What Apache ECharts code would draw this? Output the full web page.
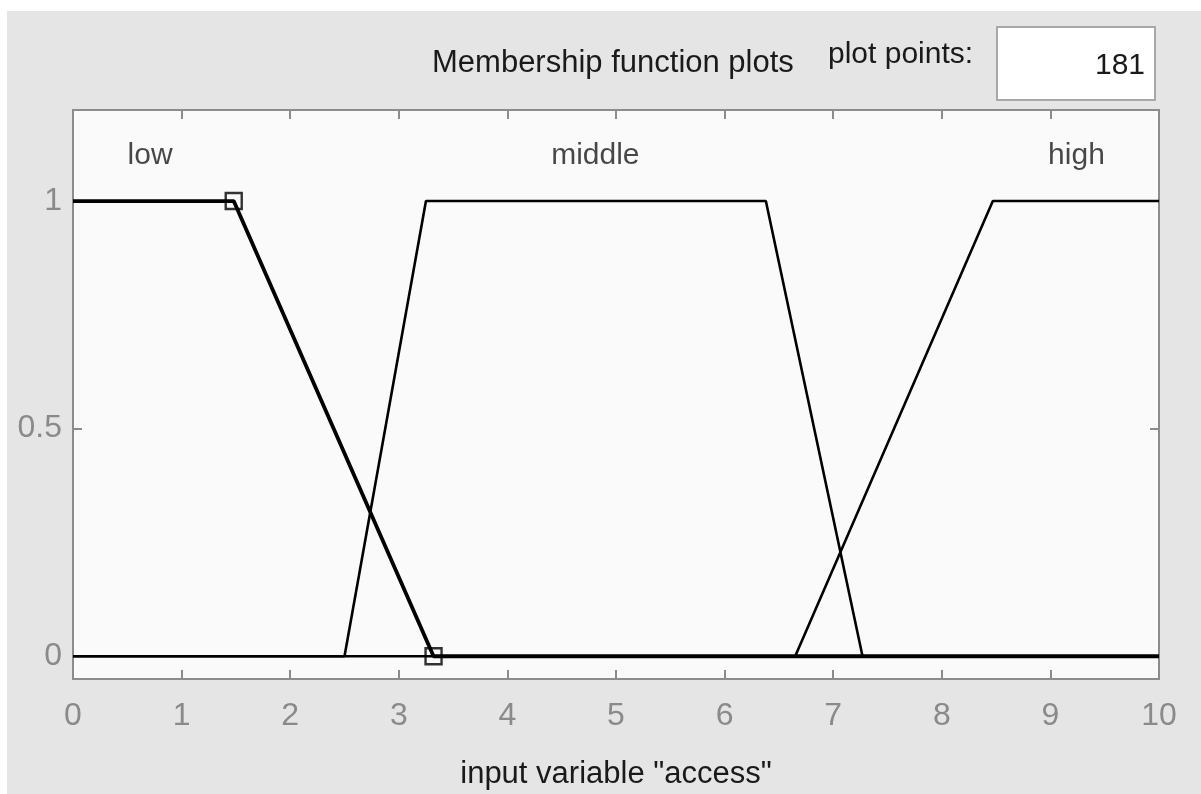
<!DOCTYPE html>
<html>
<head>
<meta charset="utf-8">
<title>Membership function plots</title>
<script src="https://cdn.jsdelivr.net/npm/echarts@6/dist/echarts.min.js"></script>
<style>
  html, body { margin: 0; padding: 0; background: #ffffff; }
  #chart { width: 1201px; height: 794px; }
</style>
</head>
<body>
<div id="chart"></div>
<script>
// Membership functions of input variable "access" (breakpoints: [x, degree])
const lowMF    = [[0, 1], [1.48, 1], [3.32, 0], [10, 0]];
const middleMF = [[0, 0], [2.5, 0], [3.25, 1], [6.38, 1], [7.27, 0], [10, 0]];
const highMF   = [[0, 0], [6.65, 0], [8.47, 1], [10, 1]];

// Names of the membership functions and where they are written
const mfNames   = ['low', 'middle', 'high'];
const mfLabelX  = [0.71, 4.81, 9.24];
const mfLabelY  = 1.1;

// Control points of the selected function (low)
const selectedPoints = [[1.48, 1], [3.32, 0]];

// Axis ticks
const xTicks = [0, 1, 2, 3, 4, 5, 6, 7, 8, 9, 10];
const yTicks = [0, 0.5, 1];
const plotPoints = '181';

const FONT = "'Liberation Sans', Arial, Helvetica, sans-serif";
const AXIS_GREY = '#8c8c8c';
const LABEL_GREY = '#8a8a8a';
const TEXT = '#1a1a1a';

const chart = echarts.init(document.getElementById('chart'), null, { renderer: 'canvas' });

const tickStyle = { show: true, inside: true, length: 9, lineStyle: { color: AXIS_GREY, width: 2 } };
const hiddenLine = { show: false, onZero: false };

const option = {
  backgroundColor: '#ffffff',
  animation: false,
  textStyle: { fontFamily: FONT },
  graphic: [
    { type: 'rect', z: -10, silent: true,
      shape: { x: 7, y: 11, width: 1194, height: 783 },
      style: { fill: '#e5e5e5' } },
    { type: 'text', silent: true,
      style: { x: 432, y: 63, text: 'Membership function plots', fill: TEXT,
        font: '31px ' + FONT, verticalAlign: 'middle' } },
    { type: 'text', silent: true,
      style: { x: 828, y: 55, text: 'plot points:', fill: TEXT,
        font: '30px ' + FONT, verticalAlign: 'middle' } },
    { type: 'rect', silent: true,
      shape: { x: 997, y: 27, width: 158, height: 73 },
      style: { fill: '#ffffff', stroke: '#a8a8a8', lineWidth: 2 } },
    { type: 'text', silent: true,
      style: { x: 1145, y: 66, text: plotPoints, fill: TEXT,
        font: '30px ' + FONT, align: 'right', verticalAlign: 'middle' } }
  ],
  grid: {
    left: 73, top: 110, width: 1086, height: 569,
    containLabel: false, outerBoundsMode: 'none',
    show: true, backgroundColor: '#fafafa',
    borderColor: AXIS_GREY, borderWidth: 2
  },
  xAxis: [
    {
      type: 'value', min: 0, max: 10, interval: 1,
      position: 'bottom',
      axisLine: hiddenLine,
      splitLine: { show: false },
      axisTick: tickStyle,
      axisLabel: {
        color: LABEL_GREY, fontSize: 32, margin: 21, fontFamily: FONT,
        customValues: xTicks
      },
      name: 'input variable "access"',
      nameLocation: 'middle', nameGap: 80,
      nameTextStyle: { color: TEXT, fontSize: 31, fontFamily: FONT }
    },
    {
      type: 'value', min: 0, max: 10, interval: 1,
      position: 'top',
      axisLine: hiddenLine,
      splitLine: { show: false },
      axisTick: tickStyle,
      axisLabel: { show: false }
    }
  ],
  yAxis: [
    {
      type: 'value', min: -0.05, max: 1.2,
      position: 'left',
      axisLine: hiddenLine,
      splitLine: { show: false },
      axisTick: Object.assign({ customValues: yTicks }, tickStyle),
      axisLabel: {
        color: LABEL_GREY, fontSize: 32, margin: 11, fontFamily: FONT,
        customValues: yTicks,
        formatter: v => String(v)
      }
    },
    {
      type: 'value', min: -0.05, max: 1.2,
      position: 'right',
      axisLine: hiddenLine,
      splitLine: { show: false },
      axisTick: Object.assign({ customValues: yTicks }, tickStyle),
      axisLabel: { show: false }
    }
  ],
  series: [
    { name: 'middle', type: 'line', data: middleMF, symbol: 'none',
      lineStyle: { color: '#000000', width: 2.6 }, z: 3 },
    { name: 'high', type: 'line', data: highMF, symbol: 'none',
      lineStyle: { color: '#000000', width: 2.6 }, z: 3 },
    { name: 'low', type: 'line', data: lowMF, symbol: 'none',
      lineStyle: { color: '#000000', width: 3.8 }, z: 4 },
    { name: 'points', type: 'scatter', data: selectedPoints,
      symbol: 'rect', symbolSize: 16, z: 5,
      itemStyle: { color: 'rgba(0,0,0,0)', borderColor: '#000000', borderWidth: 2.4 } },
    { name: 'names', type: 'scatter', symbolSize: 0, z: 5,
      data: mfNames.map((n, i) => ({ name: n, value: [mfLabelX[i], mfLabelY] })),
      label: { show: true, position: 'inside', formatter: p => p.name,
        color: TEXT, fontSize: 30, fontFamily: FONT } }
  ]
};

chart.setOption(option);
</script>
</body>
</html>
